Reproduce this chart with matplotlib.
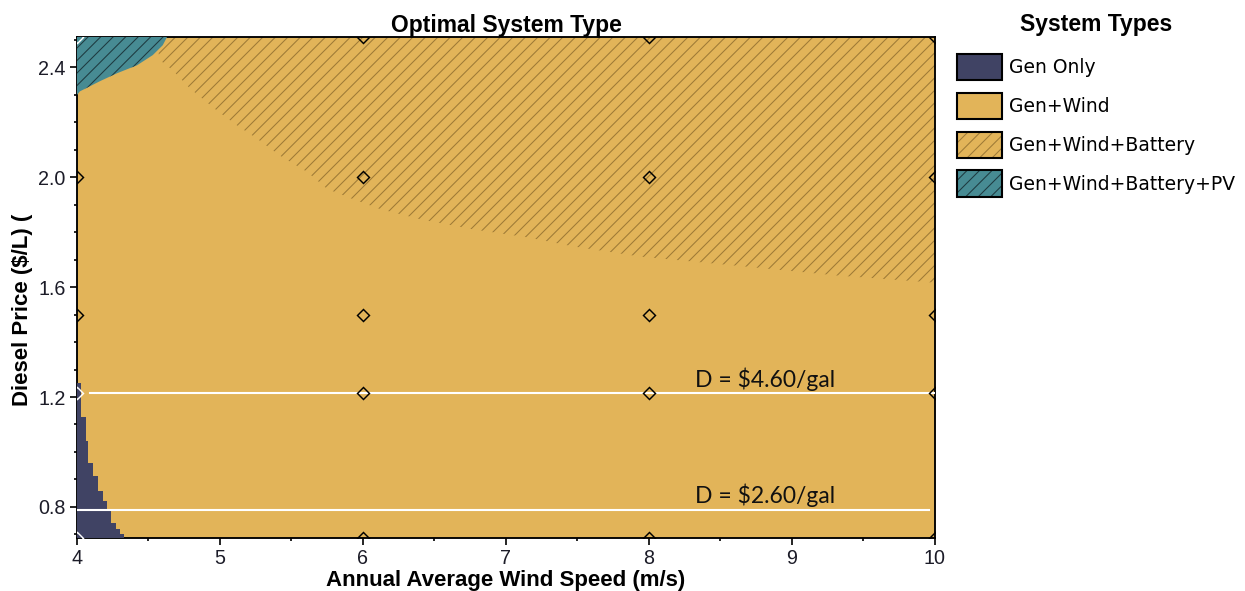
import matplotlib
matplotlib.use("Agg")
import matplotlib.pyplot as plt
from matplotlib.patches import Patch
from matplotlib.ticker import MultipleLocator
from matplotlib.legend_handler import HandlerTuple

# sensitivity grid (HOMER style optimal system type plot)
wind_speeds = [4, 6, 8, 10]
diesel_prices = [0.687, 1.215, 1.5, 2.0, 2.51]

system_types = ['Gen Only', 'Gen+Wind', 'Gen+Wind+Battery', 'Gen+Wind+Battery+PV']
type_colors = ['#404364', '#E2B459', '#E2B459', '#478B93']
type_hatches = [None, None, '////', '////']
hatch_colors = [None, None, '#9E7A36', '#1E3A40']

# optimal type at each simulated point (rows = price, cols = wind speed)
optimal_at_points = [
    ['Gen Only', 'Gen+Wind', 'Gen+Wind', 'Gen+Wind'],
    ['Gen Only', 'Gen+Wind', 'Gen+Wind', 'Gen+Wind'],
    ['Gen+Wind', 'Gen+Wind', 'Gen+Wind', 'Gen+Wind'],
    ['Gen+Wind', 'Gen+Wind+Battery', 'Gen+Wind+Battery', 'Gen+Wind+Battery'],
    ['Gen+Wind+Battery+PV', 'Gen+Wind+Battery', 'Gen+Wind+Battery', 'Gen+Wind+Battery'],
]

# region boundaries
gen_only_price = [0.687, 0.700, 0.718, 0.741, 0.784, 0.821, 0.857, 0.912, 0.961, 1.04, 1.126, 1.25]
gen_only_wind = [4.33, 4.30, 4.27, 4.24, 4.21, 4.18, 4.15, 4.11, 4.08, 4.06, 4.03, 4.03]

battery_wind = [4.55, 4.58, 4.67, 4.79, 4.98, 5.12, 5.26, 5.42, 5.61, 5.75, 5.93,
                6.12, 6.40, 6.77, 7.15, 7.47, 7.94, 8.61, 9.32, 10.0]
battery_price = [2.51, 2.426, 2.389, 2.323, 2.242, 2.188, 2.14, 2.078, 2.019, 1.957, 1.920,
                 1.884, 1.847, 1.810, 1.781, 1.748, 1.711, 1.678, 1.642, 1.616]

pv_wind = [4.0, 4.02, 4.16, 4.28, 4.42, 4.53, 4.60, 4.63]
pv_price = [2.299, 2.312, 2.349, 2.378, 2.407, 2.444, 2.48, 2.51]

# reference lines added on top
ref_prices = [1.215, 0.788]
ref_labels = ['D = $4.60/gal', 'D = $2.60/gal']
ref_starts = [4.09, 4.0]
ref_ends = [10.0, 9.96]
ref_label_x = [8.32, 8.32]
ref_label_y = [1.236, 0.815]

plt.rcParams['hatch.linewidth'] = 0.5
plt.rcParams['font.family'] = ['Liberation Sans', 'DejaVu Sans']

fig = plt.figure(figsize=(8.3, 3.94), dpi=150)
ax = fig.add_axes([0.0618, 0.0897, 0.6892, 0.8477])

pmin, pmax = min(diesel_prices), max(diesel_prices)
wmin, wmax = min(wind_speeds), max(wind_speeds)

# base: Gen+Wind
ax.fill_between([wmin, wmax], pmin, pmax, color=type_colors[1], lw=0, zorder=1)
# Gen+Wind+Battery
ax.fill_between(battery_wind, battery_price, pmax, facecolor=type_colors[2],
                edgecolor=hatch_colors[2], hatch=type_hatches[2], lw=0, zorder=2)
# Gen+Wind+Battery+PV
ax.fill_between(pv_wind, pv_price, pmax, facecolor=type_colors[3],
                edgecolor=hatch_colors[3], hatch=type_hatches[3], lw=0, zorder=3)
# Gen Only
ax.fill_betweenx(gen_only_price, wmin, gen_only_wind, step='post',
                 color=type_colors[0], lw=0, zorder=3)

# simulated points
for i, p in enumerate(diesel_prices):
    for j, w in enumerate(wind_speeds):
        t = optimal_at_points[i][j]
        mc = 'white' if t in ('Gen Only', 'Gen+Wind+Battery+PV') else 'black'
        ax.plot(w, p, marker='D', ms=4.3, mfc='none', mec=mc, mew=0.7, zorder=6)

# white reference lines with labels
for y, lab, x0, x1, lx, ly in zip(ref_prices, ref_labels, ref_starts, ref_ends,
                                   ref_label_x, ref_label_y):
    ax.plot([x0, x1], [y, y], color='white', lw=1.0, zorder=5)
    ax.text(lx, ly, lab, fontsize=11, family=['Lato', 'DejaVu Sans'],
            color='#111111', va='baseline', ha='left', zorder=7)

ax.set_xlim(wmin, wmax)
ax.set_ylim(pmin, pmax)
ax.xaxis.set_major_locator(MultipleLocator(1))
ax.xaxis.set_minor_locator(MultipleLocator(0.5))
ax.set_yticks([0.8, 1.2, 1.6, 2.0, 2.4])
ax.yaxis.set_minor_locator(MultipleLocator(0.1))
ax.tick_params(which='major', direction='out', length=3.4, width=0.8,
               labelsize=9.5, pad=2, labelcolor='#1c1c28')
ax.tick_params(which='minor', direction='out', length=1.6, width=0.8)
for s in ax.spines.values():
    s.set_linewidth(0.9)

ax.set_title('Optimal System Type', fontsize=11, fontweight='bold', pad=2)
ax.set_xlabel('Annual Average Wind Speed (m/s)', fontsize=10.7, fontweight='bold', labelpad=1)
ax.set_ylabel('Diesel Price ($/L) (', fontsize=10.7, fontweight='bold')
ax.yaxis.set_label_coords(-0.051, 0.456)

# legend: hatched fill with a black border drawn over it
handles = []
for c, h, hc in zip(type_colors, type_hatches, hatch_colors):
    fill = Patch(facecolor=c, edgecolor=hc if hc else c, hatch=h, lw=0)
    border = Patch(facecolor='none', edgecolor='black', lw=1.0)
    handles.append((fill, border))
fig.text(0.8803, 0.958, 'System Types', ha='center', va='center',
         fontsize=11, fontweight='bold')
leg = fig.legend(handles, system_types, loc='upper left', bbox_to_anchor=(0.7627, 0.9213),
                 frameon=False, borderaxespad=0,
                 prop={'family': ['DejaVu Sans'], 'size': 9},
                 handlelength=2.4, handleheight=1.79, labelspacing=0.66, handletextpad=0.37,
                 handler_map={tuple: HandlerTuple(ndivide=1, pad=0)})

fig.savefig('out.png', dpi=150)
